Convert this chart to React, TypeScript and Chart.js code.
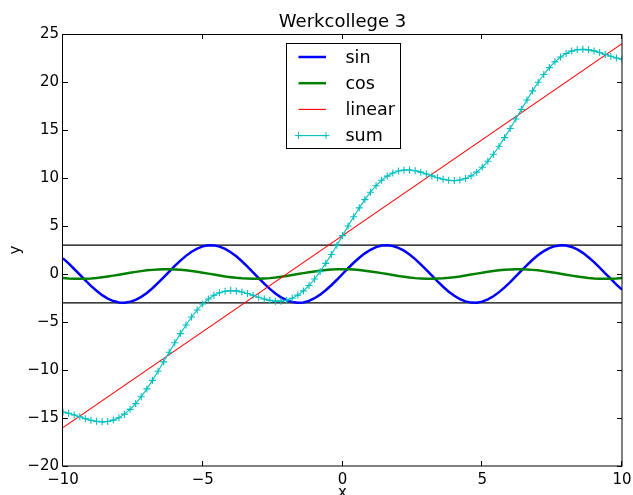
import React, { useEffect, useRef } from 'react';
import { Chart, registerables } from 'chart.js';

Chart.register(...registerables);

const titleText = 'Werkcollege 3';
const xLabel = 'x';
const yLabel = 'y';

const xValues = [
  -10, -9.8, -9.6, -9.4, -9.2, -9, -8.8, -8.6, -8.4, -8.2, -8, -7.8, -7.6, -7.4, -7.2, -7, -6.8, -6.6, -6.4, -6.2,
  -6, -5.8, -5.6, -5.4, -5.2, -5, -4.8, -4.6, -4.4, -4.2, -4, -3.8, -3.6, -3.4, -3.2, -3, -2.8, -2.6, -2.4, -2.2,
  -2, -1.8, -1.6, -1.4, -1.2, -1, -0.8, -0.6, -0.4, -0.2, 0, 0.2, 0.4, 0.6, 0.8, 1, 1.2, 1.4, 1.6, 1.8,
  2, 2.2, 2.4, 2.6, 2.8, 3, 3.2, 3.4, 3.6, 3.8, 4, 4.2, 4.4, 4.6, 4.8, 5, 5.2, 5.4, 5.6, 5.8,
  6, 6.2, 6.4, 6.6, 6.8, 7, 7.2, 7.4, 7.6, 7.8, 8, 8.2, 8.4, 8.6, 8.8, 9, 9.2, 9.4, 9.6, 9.8, 10,
];

const sinValues = [
  1.63, 1.1, 0.52, -0.07, -0.67, -1.24, -1.75, -2.2, -2.56, -2.82, -2.97, -3.0, -2.9, -2.7, -2.38, -1.97, -1.48, -0.93, -0.35, 0.25,
  0.84, 1.39, 1.89, 2.32, 2.65, 2.88, 2.99, 2.98, 2.85, 2.61, 2.27, 1.84, 1.33, 0.77, 0.18, -0.42, -1.01, -1.55, -2.03, -2.43,
  -2.73, -2.92, -3.0, -2.96, -2.8, -2.52, -2.15, -1.69, -1.17, -0.6, 0, 0.6, 1.17, 1.69, 2.15, 2.52, 2.8, 2.96, 3.0, 2.92,
  2.73, 2.43, 2.03, 1.55, 1.01, 0.42, -0.18, -0.77, -1.33, -1.84, -2.27, -2.61, -2.85, -2.98, -2.99, -2.88, -2.65, -2.32, -1.89, -1.39,
  -0.84, -0.25, 0.35, 0.93, 1.48, 1.97, 2.38, 2.7, 2.9, 3.0, 2.97, 2.82, 2.56, 2.2, 1.75, 1.24, 0.67, 0.07, -0.52, -1.1, -1.63,
];

const cosValues = [
  -0.42, -0.47, -0.49, -0.5, -0.49, -0.46, -0.41, -0.34, -0.26, -0.17, -0.07, 0.03, 0.13, 0.22, 0.3, 0.38, 0.43, 0.48, 0.5, 0.5,
  0.48, 0.44, 0.39, 0.32, 0.23, 0.14, 0.04, -0.06, -0.15, -0.25, -0.33, -0.4, -0.45, -0.48, -0.5, -0.5, -0.47, -0.43, -0.37, -0.29,
  -0.21, -0.11, -0.01, 0.09, 0.18, 0.27, 0.35, 0.41, 0.46, 0.49, 0.5, 0.49, 0.46, 0.41, 0.35, 0.27, 0.18, 0.09, -0.01, -0.11,
  -0.21, -0.29, -0.37, -0.43, -0.47, -0.5, -0.5, -0.48, -0.45, -0.4, -0.33, -0.25, -0.15, -0.06, 0.04, 0.14, 0.23, 0.32, 0.39, 0.44,
  0.48, 0.5, 0.5, 0.48, 0.43, 0.38, 0.3, 0.22, 0.13, 0.03, -0.07, -0.17, -0.26, -0.34, -0.41, -0.46, -0.49, -0.5, -0.49, -0.47, -0.42,
];

const linearX = [-10, 10];
const linearValues = [-16, 24];

const sumValues = [
  -14.37, -14.5, -14.68, -14.87, -15.07, -15.24, -15.35, -15.4, -15.36, -15.22, -14.97, -14.6, -14.1, -13.5, -12.78, -11.97, -11.08, -10.13, -9.15, -8.15,
  -7.16, -6.21, -5.31, -4.48, -3.75, -3.12, -2.61, -2.22, -1.95, -1.79, -1.73, -1.76, -1.87, -2.03, -2.22, -2.42, -2.61, -2.75, -2.83, -2.83,
  -2.73, -2.52, -2.2, -1.76, -1.2, -0.52, 0.25, 1.11, 2.03, 3.0, 4.0, 5.0, 5.97, 6.89, 7.75, 8.52, 9.2, 9.76, 10.2, 10.52,
  10.73, 10.83, 10.83, 10.75, 10.61, 10.42, 10.22, 10.03, 9.87, 9.76, 9.73, 9.79, 9.95, 10.22, 10.61, 11.12, 11.75, 12.48, 13.31, 14.21,
  15.16, 16.15, 17.15, 18.13, 19.08, 19.97, 20.78, 21.5, 22.1, 22.6, 22.97, 23.22, 23.36, 23.4, 23.35, 23.24, 23.07, 22.87, 22.68, 22.5, 22.37,
];

const hlineX = [-10, 10];
const upperLimit = [3, 3];
const lowerLimit = [-3, -3];

const xTicks = [-10, -5, 0, 5, 10];
const yTicks = [-20, -15, -10, -5, 0, 5, 10, 15, 20, 25];

const seriesNames = ['sin', 'cos', 'linear', 'sum'];

const FONT = '"DejaVu Sans", sans-serif';
const fmt = (v: number) => String(v).replace('-', '\u2212');
const pts = (xs: number[], ys: number[]) => xs.map((x, i) => ({ x, y: ys[i] }));

const decorPlugin = {
  id: 'decor',
  afterDraw(chart: any) {
    const { ctx, chartArea: a, scales } = chart;
    const xs = scales.x;
    const ys = scales.y;
    ctx.save();
    ctx.strokeStyle = '#000';
    ctx.lineWidth = 1;
    // frame
    ctx.strokeRect(a.left - 0.5, a.top + 0.5, a.right - a.left + 0.5, a.bottom - a.top - 0.5);
    // inward ticks
    const tl = 5;
    ctx.beginPath();
    xTicks.forEach((v) => {
      const px = Math.round(xs.getPixelForValue(v)) - 0.5;
      ctx.moveTo(px, a.bottom);
      ctx.lineTo(px, a.bottom - tl);
      ctx.moveTo(px, a.top);
      ctx.lineTo(px, a.top + tl);
    });
    yTicks.forEach((v) => {
      const py = Math.round(ys.getPixelForValue(v)) + 0.5;
      ctx.moveTo(a.left, py);
      ctx.lineTo(a.left + tl, py);
      ctx.moveTo(a.right, py);
      ctx.lineTo(a.right - tl, py);
    });
    ctx.stroke();

    // title
    ctx.fillStyle = '#000';
    ctx.font = `18px ${FONT}`;
    ctx.textAlign = 'center';
    ctx.textBaseline = 'alphabetic';
    ctx.fillText(titleText, (a.left + a.right) / 2, a.top - 7);

    // axis labels
    ctx.font = `15px ${FONT}`;
    ctx.fillText(xLabel, (a.left + a.right) / 2, 497);
    ctx.save();
    ctx.translate(20, (a.top + a.bottom) / 2);
    ctx.rotate(-Math.PI / 2);
    ctx.fillText(yLabel, 0, 0);
    ctx.restore();

    // legend
    const bw = 114;
    const bh = 105;
    const bx = Math.round((a.left + a.right) / 2 - bw / 2) + 0.5;
    const by = a.top + 9 + 0.5;
    ctx.fillStyle = '#fff';
    ctx.fillRect(bx, by, bw, bh);
    ctx.strokeStyle = '#000';
    ctx.lineWidth = 1;
    ctx.strokeRect(bx, by, bw, bh);
    ctx.font = `17.5px ${FONT}`;
    ctx.textAlign = 'left';
    ctx.textBaseline = 'middle';
    seriesNames.forEach((name, i) => {
      const ds = chart.data.datasets[i];
      const ry = by + 13.5 + i * 26.2;
      const x1 = bx + 12;
      const x2 = bx + 39.5;
      ctx.strokeStyle = ds.borderColor;
      ctx.lineWidth = ds.borderWidth;
      ctx.beginPath();
      ctx.moveTo(x1, ry);
      ctx.lineTo(x2, ry);
      ctx.stroke();
      if (ds.pointRadius > 0) {
        const r = ds.pointRadius;
        ctx.lineWidth = 1;
        ctx.beginPath();
        [x1, x2].forEach((mx) => {
          ctx.moveTo(mx - r, ry);
          ctx.lineTo(mx + r, ry);
          ctx.moveTo(mx, ry - r);
          ctx.lineTo(mx, ry + r);
        });
        ctx.stroke();
      }
      ctx.fillStyle = '#000';
      ctx.fillText(name, bx + 59, ry + 1);
    });
    ctx.restore();
  },
};

export default function App() {
  const ref = useRef<HTMLCanvasElement | null>(null);

  useEffect(() => {
    const canvas = ref.current;
    if (!canvas) return;
    const chart = new Chart(canvas, {
      type: 'line',
      data: {
        datasets: [
          {
            label: seriesNames[0],
            data: pts(xValues, sinValues),
            borderColor: '#0000ff',
            borderWidth: 2.5,
            pointRadius: 0,
            order: 5,
          },
          {
            label: seriesNames[1],
            data: pts(xValues, cosValues),
            borderColor: '#008000',
            borderWidth: 2.5,
            pointRadius: 0,
            order: 4,
          },
          {
            label: seriesNames[2],
            data: pts(linearX, linearValues),
            borderColor: '#ff0000',
            borderWidth: 1.1,
            pointRadius: 0,
            order: 3,
          },
          {
            label: seriesNames[3],
            data: pts(xValues, sumValues),
            borderColor: '#00bfbf',
            borderWidth: 1.1,
            pointStyle: 'cross',
            pointRadius: 3.5,
            pointBorderWidth: 1.1,
            pointBorderColor: '#00bfbf',
            pointBackgroundColor: '#00bfbf',
            order: 2,
          },
          {
            label: 'upper',
            data: pts(hlineX, upperLimit),
            borderColor: '#000000',
            borderWidth: 1.3,
            pointRadius: 0,
            order: 6,
          },
          {
            label: 'lower',
            data: pts(hlineX, lowerLimit),
            borderColor: '#000000',
            borderWidth: 1.3,
            pointRadius: 0,
            order: 6,
          },
        ] as any,
      },
      options: {
        responsive: false,
        animation: false,
        devicePixelRatio: 1,
        layout: { padding: { top: 34, right: 11, left: 0, bottom: 0 } },
        elements: { line: { tension: 0 } },
        datasets: { line: { clip: 0 } } as any,
        plugins: {
          legend: { display: false },
          title: { display: false },
          tooltip: { enabled: false },
        },
        scales: {
          x: {
            type: 'linear',
            min: -10,
            max: 10,
            grid: { display: false, drawTicks: false },
            border: { display: false },
            ticks: {
              padding: 5,
              color: '#000',
              font: { family: FONT, size: 15 },
              maxRotation: 0,
              callback: (v: any) => fmt(Number(v)),
            },
            afterBuildTicks: (s: any) => {
              s.ticks = xTicks.map((v) => ({ value: v }));
            },
            afterFit: (s: any) => {
              s.height = 29;
              s.paddingLeft = 0;
              s.paddingRight = 0;
            },
          },
          y: {
            type: 'linear',
            min: -20,
            max: 25,
            grid: { display: false, drawTicks: false },
            border: { display: false },
            ticks: {
              padding: 4,
              color: '#000',
              font: { family: FONT, size: 15 },
              callback: (v: any) => fmt(Number(v)),
            },
            afterBuildTicks: (s: any) => {
              s.ticks = yTicks.map((v) => ({ value: v }));
            },
            afterFit: (s: any) => {
              s.width = 63;
              s.paddingTop = 0;
              s.paddingBottom = 0;
            },
          },
        },
      },
      plugins: [decorPlugin],
    });
    return () => chart.destroy();
  }, []);

  return (
    <div style={{ position: 'fixed', left: 0, top: 0, width: 633, height: 495, background: '#fff' }}>
      <canvas ref={ref} width={633} height={495} style={{ display: 'block', width: 633, height: 495 }} />
    </div>
  );
}
